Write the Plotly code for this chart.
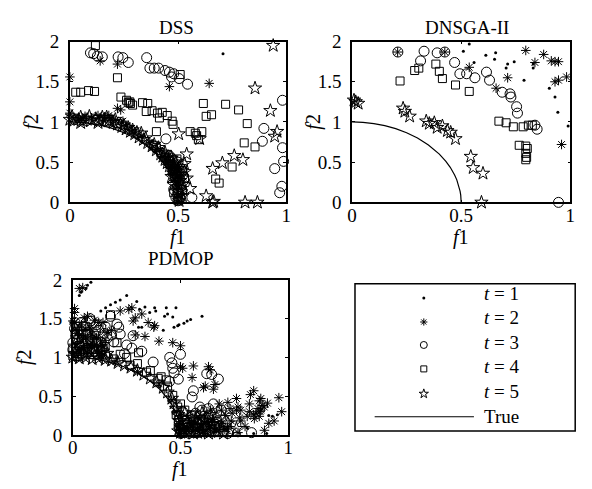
import plotly.graph_objects as go

# ---------------- data (f1, f2) ----------------
true_f1 = [0.0, 0.05, 0.1, 0.15, 0.2, 0.25, 0.3, 0.35, 0.4, 0.43, 0.45, 0.46, 0.47, 0.48, 0.49, 0.495, 0.498, 0.5]
true_f2 = [1.0, 0.995, 0.98, 0.954, 0.917, 0.866, 0.80, 0.714, 0.60, 0.51, 0.436, 0.39, 0.341, 0.28, 0.199, 0.141, 0.09, 0.0]

# DSS
dss_t1_f1 = [0.708, 0.30, 0.45, 0.49, 0.50, 0.12]
dss_t1_f2 = [1.85, 0.86, 0.50, 0.22, 0.01, 1.03]
dss_t2_f1 = [0.0, 0.0, 0.0, 0.14, 0.22, 0.22, 0.235, 0.245, 0.46, 0.644,
             0.01, 0.04, 0.07, 0.10, 0.13, 0.16, 0.19, 0.21, 0.26, 0.29, 0.33, 0.37, 0.40, 0.43,
             0.45, 0.47, 0.48, 0.49, 0.50, 0.50, 0.51, 0.52, 0.18, 0.05]
dss_t2_f2 = [1.56, 1.25, 1.11, 1.76, 1.72, 1.17, 1.15, 1.01, 1.44, 1.48,
             1.06, 1.05, 1.07, 1.05, 1.08, 1.06, 1.05, 1.02, 0.95, 0.90, 0.82, 0.74, 0.66, 0.57,
             0.50, 0.42, 0.34, 0.26, 0.16, 0.06, 0.30, 0.10, 1.08, 1.02]
dss_t3_f1 = [0.095, 0.11, 0.127, 0.15, 0.223, 0.245, 0.27, 0.355, 0.37, 0.39, 0.41, 0.44, 0.46, 0.47,
             0.48, 0.505, 0.544, 0.444, 0.983, 0.897, 0.89, 0.983, 0.988, 0.947, 0.98, 0.97, 0.564,
             0.51, 0.518, 0.52, 0.50, 0.47, 0.48, 0.49, 0.50, 0.50, 0.50, 0.49, 0.46,
             0.48, 0.51, 0.52, 0.47]
dss_t3_f2 = [1.86, 1.85, 1.82, 1.81, 1.81, 1.80, 1.74, 1.80, 1.67, 1.67, 1.67, 1.64, 1.62, 1.56,
             1.60, 1.54, 1.47, 0.79, 1.27, 0.92, 0.76, 0.68, 0.51, 0.42, 0.20, 0.12, 0.06,
             0.43, 0.39, 0.47, 0.50, 0.55, 0.46, 0.36, 0.26, 0.12, 0.02, 0.06, 0.58,
             0.16, 0.22, 0.33, 0.46]
dss_t4_f1 = [0.118, 0.027, 0.05, 0.086, 0.114, 0.22, 0.236, 0.262, 0.277, 0.29, 0.336, 0.36, 0.353,
             0.38, 0.405, 0.427, 0.414, 0.45, 0.473, 0.477, 0.40, 0.51, 0.617, 0.72, 0.78, 0.63, 0.655,
             0.82, 0.556, 0.58, 0.61, 0.594, 0.586, 0.806, 0.856, 0.75, 0.674, 0.69, 0.27, 0.28,
             0.386, 0.40, 0.42, 0.44, 0.46, 0.475, 0.485, 0.495, 0.50, 0.50, 0.51, 0.51, 0.52, 0.17, 0.22,
             0.44, 0.46, 0.48, 0.49, 0.52, 0.53, 0.50, 0.48]
dss_t4_f2 = [1.95, 1.37, 1.37, 1.39, 1.38, 1.55, 1.31, 1.27, 1.25, 1.21, 1.24, 1.23, 1.13,
             1.14, 1.11, 1.12, 1.05, 1.08, 1.01, 0.97, 0.88, 1.59, 1.23, 1.22, 1.15, 1.07, 1.09,
             0.98, 0.88, 0.86, 0.88, 0.78, 0.83, 0.74, 0.69, 0.44, 0.29, 0.24, 1.24, 1.23,
             0.71, 0.68, 0.62, 0.56, 0.48, 0.40, 0.32, 0.54, 0.22, 0.12, 0.28, 0.06, 0.16, 1.00, 0.98,
             0.60, 0.52, 0.45, 0.38, 0.42, 0.30, 0.02, 0.12]
dss_t5_f1 = [0.94, 0.856, 0.927, 0.958, 0.947, 0.503, 0.60, 0.54, 0.76, 0.80, 0.705, 0.66, 0.556,
             0.63, 0.66, 0.81, 0.867, 0.665,
             0.0, 0.02, 0.04, 0.06, 0.08, 0.10, 0.12, 0.14, 0.16, 0.18, 0.20, 0.22, 0.24, 0.26, 0.28,
             0.30, 0.32, 0.34, 0.36, 0.38, 0.40, 0.42, 0.43, 0.44, 0.45, 0.46, 0.47, 0.48, 0.485,
             0.49, 0.495, 0.50, 0.50, 0.505, 0.51, 0.52, 0.53, 0.54, 0.49, 0.47, 0.44, 0.33, 0.27, 0.15, 0.05,
             0.01, 0.05, 0.09, 0.13, 0.17, 0.21, 0.25, 0.29, 0.31, 0.35, 0.39, 0.41, 0.45, 0.47, 0.48,
             0.49, 0.50, 0.51, 0.51, 0.52, 0.53, 0.50, 0.48, 0.47]
dss_t5_f2 = [1.95, 1.42, 1.14, 0.88, 0.82, 0.85, 0.79, 0.60, 0.58, 0.53, 0.49, 0.42, 0.17,
             0.08, 0.0, 0.0, 0.0, 0.01,
             1.03, 1.02, 1.03, 1.01, 1.03, 1.02, 1.04, 1.02, 1.03, 1.01, 0.99, 0.97, 0.94, 0.91, 0.88,
             0.85, 0.81, 0.78, 0.74, 0.70, 0.65, 0.60, 0.57, 0.53, 0.49, 0.45, 0.41, 0.36, 0.31,
             0.25, 0.19, 0.13, 0.07, 0.02, 0.36, 0.22, 0.48, 0.30, 0.50, 0.55, 0.62, 0.86, 0.93, 1.06, 1.06,
             1.07, 0.99, 1.07, 0.99, 1.06, 1.03, 0.96, 0.90, 0.87, 0.80, 0.72, 0.68, 0.56, 0.50, 0.44,
             0.40, 0.34, 0.27, 0.15, 0.08, 0.38, 0.42, 0.22, 0.32]

# DNSGA-II
dn_t1_f1 = [0.537, 0.51, 0.559, 0.613, 0.658, 0.653, 0.713, 0.706, 0.743, 0.788, 0.83, 0.83,
            0.904, 0.93, 0.943, 0.99]
dn_t1_f2 = [1.97, 1.88, 1.74, 1.83, 1.86, 1.78, 1.72, 1.67, 1.75, 1.52, 1.72, 1.67,
            1.42, 1.31, 1.12, 0.95]
dn_t2_f1 = [0.209, 0.425, 0.537, 0.713, 0.66, 0.796, 0.838, 0.878, 0.913, 0.93, 0.946, 0.93,
            0.946, 0.983, 0.96, 0.012]
dn_t2_f2 = [1.87, 1.87, 1.68, 1.55, 1.42, 1.89, 1.74, 1.84, 1.76, 1.75, 1.75, 1.50,
            1.52, 1.56, 0.72, 1.26]
dn_t3_f1 = [0.21, 0.33, 0.39, 0.425, 0.314, 0.47, 0.494, 0.525, 0.563, 0.616, 0.63, 0.688,
            0.724, 0.728, 0.754, 0.758, 0.838, 0.848, 0.946]
dn_t3_f2 = [1.87, 1.88, 1.86, 1.87, 1.76, 1.74, 1.60, 1.60, 1.55, 1.62, 1.52, 1.37,
            1.35, 1.31, 1.19, 1.11, 0.96, 0.91, 0.0]
dn_t4_f1 = [0.22, 0.287, 0.306, 0.384, 0.40, 0.414, 0.474, 0.537, 0.673, 0.706, 0.739, 0.784,
            0.808, 0.826, 0.766, 0.796, 0.803, 0.796, 0.796, 0.80]
dn_t4_f2 = [1.51, 1.64, 1.67, 1.72, 1.63, 1.54, 1.46, 1.38, 1.01, 0.99, 0.94, 0.94,
            0.96, 0.96, 0.71, 0.70, 0.67, 0.61, 0.53, 0.56]
dn_t5_f1 = [0.009, 0.017, 0.028, 0.234, 0.242, 0.264, 0.34, 0.354, 0.377, 0.39, 0.414, 0.437,
            0.452, 0.474, 0.544, 0.555, 0.60, 0.593]
dn_t5_f2 = [1.27, 1.25, 1.23, 1.17, 1.13, 1.07, 1.01, 0.98, 0.99, 0.93, 0.95, 0.89,
            0.87, 0.79, 0.57, 0.43, 0.36, 0.0]

# PDMOP
pd_t1_f1 = [0.084, 0.068, 0.061, 0.03, 0.038, 0.25, 0.13, 0.152, 0.175, 0.198, 0.22, 0.297, 0.31,
            0.335, 0.357, 0.38, 0.385, 0.434, 0.479, 0.426, 0.44, 0.464, 0.305, 0.32, 0.42, 0.47,
            0.487, 0.493, 0.516, 0.531, 0.547, 0.60, 0.927, 0.95, 0.84, 0.90, 0.81, 0.91]
pd_t1_f2 = [1.97, 1.93, 1.89, 1.80, 1.84, 1.80, 1.60, 1.64, 1.68, 1.71, 1.74, 1.72, 1.62,
            1.65, 1.58, 1.64, 1.60, 1.64, 1.64, 1.53, 1.56, 1.52, 1.39, 1.39, 1.35, 1.39,
            1.41, 1.42, 1.44, 1.47, 1.49, 1.53, 0.24, 0.26, 0.02, 0.02, 0.09, 0.25]
pd_t2_f1 = [0.03, 0.046, 0.008, 0.008, 0.0, 0.008, 0.053, 0.068, 0.22, 0.26, 0.274, 0.28, 0.29,
            0.38, 0.376, 0.29, 0.335, 0.40, 0.464, 0.50, 0.50, 0.51, 0.56, 0.554, 0.63, 0.638,
            0.615, 0.607, 0.653, 0.66, 0.76, 0.767, 0.76, 0.825, 0.84, 0.873, 0.866, 0.904, 0.957,
            0.97, 0.935, 0.86, 0.873, 0.889, 0.843, 0.866, 0.81, 0.775, 0.80, 0.706, 0.72, 0.767,
            0.736, 0.73, 0.69,
            0.02, 0.05, 0.08, 0.10, 0.12, 0.04, 0.15, 0.07, 0.13, 0.18,
            0.20, 0.30, 0.40, 0.46, 0.48, 0.49, 0.55, 0.60, 0.65, 0.52,
            0.01, 0.03, 0.06, 0.09, 0.11, 0.02, 0.05, 0.08, 0.12, 0.14, 0.01, 0.04, 0.10, 0.16,
            0.14, 0.35, 0.32,
            0.50, 0.53, 0.56, 0.58, 0.61, 0.63, 0.66, 0.69, 0.71, 0.74, 0.78, 0.82, 0.85, 0.88,
            0.82, 0.84, 0.87, 0.78, 0.91, 0.89, 0.64, 0.68, 0.72]
pd_t2_f2 = [1.89, 1.90, 1.63, 1.58, 1.47, 1.45, 1.51, 1.53, 1.60, 1.62, 1.64, 1.47, 1.51,
            1.41, 1.39, 1.29, 1.27, 1.21, 1.19, 1.15, 0.88, 0.86, 0.89, 0.74, 0.88, 0.84,
            0.63, 0.61, 0.59, 0.65, 0.47, 0.36, 0.32, 0.52, 0.57, 0.47, 0.44, 0.41, 0.48,
            0.30, 0.18, 0.34, 0.32, 0.36, 0.21, 0.24, 0.24, 0.22, 0.11, 0.07, 0.11, 0.03,
            0.18, 0.34, 0.32,
            1.35, 1.25, 1.38, 1.15, 1.45, 1.10, 1.22, 1.05, 1.02, 1.35,
            0.95, 0.82, 0.66, 0.45, 0.30, 0.10, 0.15, 0.10, 0.20, 0.05,
            1.35, 1.28, 1.36, 1.30, 1.25, 1.18, 1.12, 1.15, 1.05, 1.15, 1.05, 1.42, 1.48, 1.32,
            1.45, 1.45, 1.56,
            0.02, 0.09, 0.13, 0.06, 0.02, 0.16, 0.06, 0.15, 0.25, 0.28, 0.18, 0.30, 0.28, 0.38,
            0.40, 0.26, 0.30, 0.32, 0.15, 0.06, 0.32, 0.40, 0.42]
pd_t3_f1 = [0.008, 0.046, 0.023, 0.0, 0.068, 0.106, 0.13, 0.175, 0.205, 0.213, 0.18, 0.25, 0.274,
            0.32, 0.373, 0.038, 0.084, 0.145, 0.114, 0.137, 0.068, 0.0, 0.45, 0.46, 0.464, 0.47,
            0.49, 0.449, 0.50, 0.622, 0.645, 0.676, 0.56, 0.554, 0.59, 0.60, 0.653, 0.69, 0.684,
            0.83, 0.554, 0.53, 0.57, 0.62, 0.66, 0.50, 0.70, 0.02, 0.09, 0.16,
            0.02, 0.05, 0.07, 0.09, 0.11, 0.03, 0.06, 0.10, 0.13, 0.15, 0.01, 0.04, 0.12, 0.08,
            0.16, 0.19, 0.22, 0.28, 0.24,
            0.52, 0.55, 0.58, 0.61, 0.64, 0.67, 0.72, 0.63, 0.57, 0.51]
pd_t3_f2 = [1.37, 1.29, 1.23, 1.19, 1.23, 1.33, 1.39, 1.53, 1.43, 1.39, 1.29, 1.16, 1.12,
            1.08, 0.94, 1.45, 1.47, 1.31, 1.19, 1.10, 1.12, 1.10, 1.00, 0.93, 0.86, 0.80,
            0.72, 0.69, 1.04, 0.79, 0.78, 0.72, 0.57, 0.49, 0.36, 0.32, 0.40, 0.32, 0.25,
            0.03, 0.24, 0.12, 0.08, 0.15, 0.10, 0.02, 0.05, 1.02, 1.05, 1.00,
            1.30, 1.40, 1.33, 1.22, 1.42, 1.15, 1.17, 1.08, 1.20, 1.40, 1.45, 1.05, 1.35, 1.50,
            1.25, 1.20, 1.30, 1.28, 1.05,
            0.18, 0.05, 0.16, 0.24, 0.06, 0.16, 0.02, 0.34, 0.28, 0.30]
pd_t4_f1 = [0.175, 0.0, 0.023, 0.046, 0.068, 0.114, 0.152, 0.205, 0.22, 0.305, 0.19, 0.266,
            0.342, 0.396, 0.434, 0.44, 0.464, 0.487, 0.50, 0.49, 0.50, 0.52, 0.54, 0.56, 0.58,
            0.60, 0.62, 0.64, 0.66, 0.68, 0.55, 0.03, 0.08, 0.12, 0.01, 0.06, 0.10,
            0.02, 0.05, 0.09, 0.13, 0.04, 0.07, 0.11, 0.15, 0.02, 0.0, 0.25, 0.30, 0.36, 0.41,
            0.49, 0.51, 0.53, 0.55, 0.57, 0.59, 0.61, 0.63, 0.65, 0.67, 0.70, 0.52, 0.48]
pd_t4_f2 = [1.55, 1.02, 1.01, 1.02, 1.06, 1.04, 1.02, 1.19, 1.04, 1.06, 0.98, 0.90,
            0.81, 0.73, 0.71, 0.63, 0.51, 0.36, 0.40, 0.20, 0.08, 0.14, 0.04, 0.18, 0.10,
            0.20, 0.06, 0.14, 0.03, 0.12, 0.26, 1.15, 1.20, 1.12, 1.30, 1.40, 1.28,
            1.08, 1.10, 1.12, 1.08, 1.25, 1.30, 1.20, 1.14, 1.40, 1.12, 1.00, 0.92, 0.83, 0.75,
            0.12, 0.02, 0.20, 0.10, 0.02, 0.18, 0.12, 0.22, 0.08, 0.18, 0.10, 0.32, 0.26]
pd_t5_f1 = [0.0, 0.03, 0.06, 0.09, 0.12, 0.15, 0.18, 0.21, 0.24, 0.27, 0.30, 0.33, 0.36, 0.39,
            0.42, 0.44, 0.46, 0.47, 0.48, 0.49, 0.495, 0.50, 0.50, 0.52, 0.55, 0.58, 0.61, 0.64,
            0.67, 0.70, 0.73, 0.53, 0.57, 0.62, 0.66, 0.72, 0.76, 0.05, 0.10, 0.02, 0.14, 0.60, 0.51,
            0.01, 0.04, 0.07, 0.11, 0.08, 0.13, 0.03, 0.16,
            0.49, 0.51, 0.53, 0.54, 0.56, 0.57, 0.59, 0.60, 0.62, 0.63, 0.65, 0.68, 0.52, 0.55,
            0.58, 0.50, 0.61, 0.64]
pd_t5_f2 = [1.00, 0.99, 1.00, 0.98, 0.99, 0.97, 0.96, 0.93, 0.90, 0.87, 0.83, 0.78, 0.73, 0.68,
            0.61, 0.55, 0.47, 0.41, 0.34, 0.26, 0.18, 0.10, 0.03, 0.02, 0.06, 0.03, 0.08, 0.04,
            0.09, 0.02, 0.06, 0.16, 0.20, 0.18, 0.22, 0.15, 0.08, 1.10, 1.20, 1.25, 1.08, 0.28, 0.22,
            1.05, 1.15, 1.10, 1.02, 1.25, 1.14, 1.35, 1.05,
            0.05, 0.08, 0.04, 0.12, 0.02, 0.10, 0.14, 0.05, 0.10, 0.02, 0.14, 0.05, 0.28, 0.22,
            0.24, 0.18, 0.19, 0.26]

x_tick_vals = [0, 0.5, 1]
x_tick_text = ["0", "0.5", "1"]
y_tick_vals = [0, 0.5, 1, 1.5, 2]
y_tick_text = ["0", "0.5", "1", "1.5", "2"]
legend_labels = ["<i>t</i> = 1", "<i>t</i> = 2", "<i>t</i> = 3", "<i>t</i> = 4", "<i>t</i> = 5", "True"]
panel_titles = ["DSS", "DNSGA-II", "PDMOP"]

# ---------------- styling ----------------
W, H = 592, 489
FONT = "Liberation Serif"
BLACK = "black"
styles = [
    dict(symbol="circle", size=3, color=BLACK, line=dict(width=0)),
    dict(symbol="asterisk-open", size=8, color=BLACK, line=dict(width=1, color=BLACK)),
    dict(symbol="circle-open", size=10, color=BLACK, line=dict(width=1, color=BLACK)),
    dict(symbol="square-open", size=8, color=BLACK, line=dict(width=1, color=BLACK)),
    dict(symbol="star-open", size=10, color=BLACK, line=dict(width=1, color=BLACK)),
]
legend_styles = [
    dict(symbol="circle", size=3, color=BLACK, line=dict(width=0)),
    dict(symbol="asterisk-open", size=6, color=BLACK, line=dict(width=1, color=BLACK)),
    dict(symbol="circle-open", size=7, color=BLACK, line=dict(width=1, color=BLACK)),
    dict(symbol="square-open", size=6, color=BLACK, line=dict(width=1, color=BLACK)),
    dict(symbol="star-open", size=7, color=BLACK, line=dict(width=1, color=BLACK)),
]

panels = [
    ("x", "y", [(dss_t1_f1, dss_t1_f2), (dss_t2_f1, dss_t2_f2), (dss_t3_f1, dss_t3_f2),
                (dss_t4_f1, dss_t4_f2), (dss_t5_f1, dss_t5_f2)]),
    ("x2", "y2", [(dn_t1_f1, dn_t1_f2), (dn_t2_f1, dn_t2_f2), (dn_t3_f1, dn_t3_f2),
                  (dn_t4_f1, dn_t4_f2), (dn_t5_f1, dn_t5_f2)]),
    ("x3", "y3", [(pd_t1_f1, pd_t1_f2), (pd_t2_f1, pd_t2_f2), (pd_t3_f1, pd_t3_f2),
                  (pd_t4_f1, pd_t4_f2), (pd_t5_f1, pd_t5_f2)]),
]

fig = go.Figure()
for xa, ya, series in panels:
    fig.add_trace(go.Scatter(x=true_f1, y=true_f2, mode="lines", xaxis=xa, yaxis=ya,
                             line=dict(color=BLACK, width=1.2), showlegend=False,
                             hoverinfo="skip", cliponaxis=False))
    for (sx, sy), st in zip(series, styles):
        fig.add_trace(go.Scatter(x=sx, y=sy, mode="markers", xaxis=xa, yaxis=ya,
                                 marker=st, showlegend=False, cliponaxis=False))

# pixel-based boxes of each panel (left, right, top, bottom)
boxes = [(66, 286, 33, 201), (353, 575, 33, 201), (69, 288, 282, 444)]

def xdom(b):
    return [b[0] / W, b[1] / W]

def ydom(b):
    return [1 - b[3] / H, 1 - b[2] / H]

tickfont = dict(family=FONT, size=19, color=BLACK)
common = dict(showline=True, linecolor=BLACK, linewidth=1.5, mirror="ticks", ticks="inside",
              ticklen=3, tickwidth=1, tickcolor=BLACK, showgrid=False, zeroline=False,
              tickfont=tickfont, fixedrange=True)

layout = dict(width=W, height=H, margin=dict(l=0, r=0, t=0, b=0),
              paper_bgcolor="white", plot_bgcolor="rgba(0,0,0,0)", showlegend=False)
names = [("xaxis", "yaxis", "x", "y"), ("xaxis2", "yaxis2", "x2", "y2"), ("xaxis3", "yaxis3", "x3", "y3")]
for (xn, yn, xr, yr), b in zip(names, boxes):
    layout[xn] = dict(common, domain=xdom(b), range=[0, 1], tickvals=x_tick_vals,
                      ticktext=x_tick_text, anchor=yr, ticklabelstandoff=-5)
    layout[yn] = dict(common, domain=ydom(b), range=[0, 2], tickvals=y_tick_vals,
                      ticktext=y_tick_text, anchor=xr, ticklabelstandoff=5)
# overlay axis in pixel units for the legend and labels
layout["xaxis4"] = dict(domain=[0, 1], range=[0, W], visible=False, anchor="y4", fixedrange=True)
layout["yaxis4"] = dict(domain=[0, 1], range=[H, 0], visible=False, anchor="x4", fixedrange=True)
fig.update_layout(**layout)

ann = []
def text(x, y, s, size=19, angle=0):
    ann.append(dict(x=x, y=y, xref="x4", yref="y4", text=s, showarrow=False, textangle=angle,
                    font=dict(family=FONT, size=size, color=BLACK), xanchor="center", yanchor="middle"))

# panel titles
text(174, 18, panel_titles[0], 19)
text(470, 18, panel_titles[1], 19)
text(179, 260, panel_titles[2], 19)
# axis labels
for cx, cy in [(176, 238), (464, 238), (178, 480)]:
    text(cx, cy, "<i>f</i>1", 20)
for cx, cy in [(27, 117), (314, 117), (20, 363)]:
    text(cx, cy, "<i>f</i>2", 20, -90)

# legend
leg_marker_y = [301, 326, 350, 375, 401]
leg_text_y = [296, 321, 347, 373, 399, 425]
for st, yy in zip(legend_styles, leg_marker_y):
    fig.add_trace(go.Scatter(x=[426], y=[yy], mode="markers", xaxis="x4", yaxis="y4",
                             marker=st, showlegend=False, hoverinfo="skip", cliponaxis=False))
fig.add_trace(go.Scatter(x=[376, 477], y=[425, 425], mode="lines", xaxis="x4", yaxis="y4",
                         line=dict(color=BLACK, width=1.2), showlegend=False, hoverinfo="skip"))
for lab, yy in zip(legend_labels, leg_text_y):
    ann.append(dict(x=485, y=yy, xref="x4", yref="y4", text=lab, showarrow=False,
                    font=dict(family=FONT, size=19, color=BLACK), xanchor="left", yanchor="middle"))

fig.update_layout(annotations=ann,
                  shapes=[dict(type="rect", xref="x4", yref="y4", x0=356, x1=580, y0=286, y1=440,
                               line=dict(color=BLACK, width=1.5))])

fig.write_html("out.html")
